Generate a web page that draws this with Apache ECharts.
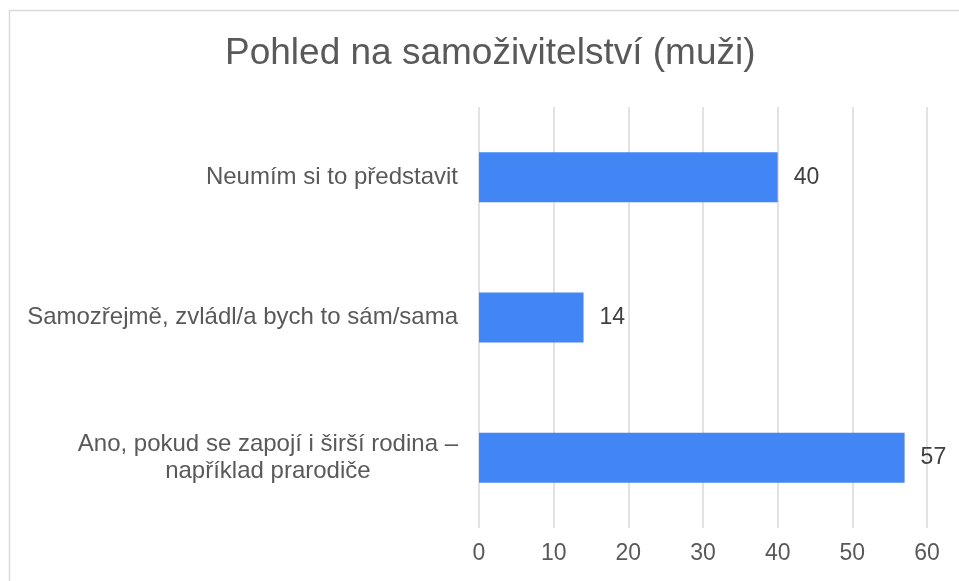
<!DOCTYPE html>
<html>
<head>
<meta charset="utf-8">
<script src="https://cdn.jsdelivr.net/npm/echarts@6/dist/echarts.min.js"></script>
<style>
  html, body { margin: 0; padding: 0; background: #fff; }
  #chart { width: 959px; height: 581px; }
</style>
</head>
<body>
<div id="chart"></div>
<script>
// data
const categories = [
  'Ano, pokud se zapojí i širší rodina –\nnapříklad prarodiče',
  'Samozřejmě, zvládl/a bych to sám/sama',
  'Neumím si to představit'
]
const values = [57, 14, 40]
const xTicks = [0, 10, 20, 30, 40, 50, 60]

const chart = echarts.init(document.getElementById('chart'))
const font = 'Liberation Sans, Arial, sans-serif'

const option = {
  backgroundColor: '#fff',
  animation: false,
  // frame of the chart box
  graphic: [{
    type: 'rect',
    shape: { x: 9.5, y: 10.5, width: 1000, height: 1000 },
    style: { fill: 'none', stroke: '#d9d9d9', lineWidth: 1.5 },
    silent: true
  }],
  title: {
    text: 'Pohled na samoživitelství (muži)',
    left: 220,
    top: 30,
    textStyle: { fontFamily: font, fontSize: 37, fontWeight: 'normal', color: '#595959' }
  },
  grid: { left: 479, right: 32, top: 107, bottom: 53 },
  xAxis: {
    type: 'value',
    min: xTicks[0],
    max: xTicks[xTicks.length - 1],
    interval: 10,
    axisLine: { show: false },
    axisTick: { show: false },
    splitLine: { lineStyle: { color: '#d9d9d9', width: 1.5 } },
    axisLabel: { fontFamily: font, fontSize: 23, color: '#595959', margin: 14 }
  },
  yAxis: {
    type: 'category',
    data: categories,
    axisLine: { show: false },
    axisTick: { show: false },
    axisLabel: {
      margin: 21,
      formatter: v => v.split('\n').map(s => '{c|' + s + '}').join('\n'),
      rich: {
        c: { fontFamily: font, fontSize: 24, color: '#595959', align: 'center', lineHeight: 27 }
      }
    }
  },
  series: [{
    type: 'bar',
    data: values,
    barWidth: 50,
    itemStyle: { color: '#4285f4' },
    label: {
      show: true,
      position: 'right',
      distance: 16,
      fontFamily: font,
      fontSize: 23,
      color: '#404040'
    }
  }]
}
chart.setOption(option)
</script>
</body>
</html>
